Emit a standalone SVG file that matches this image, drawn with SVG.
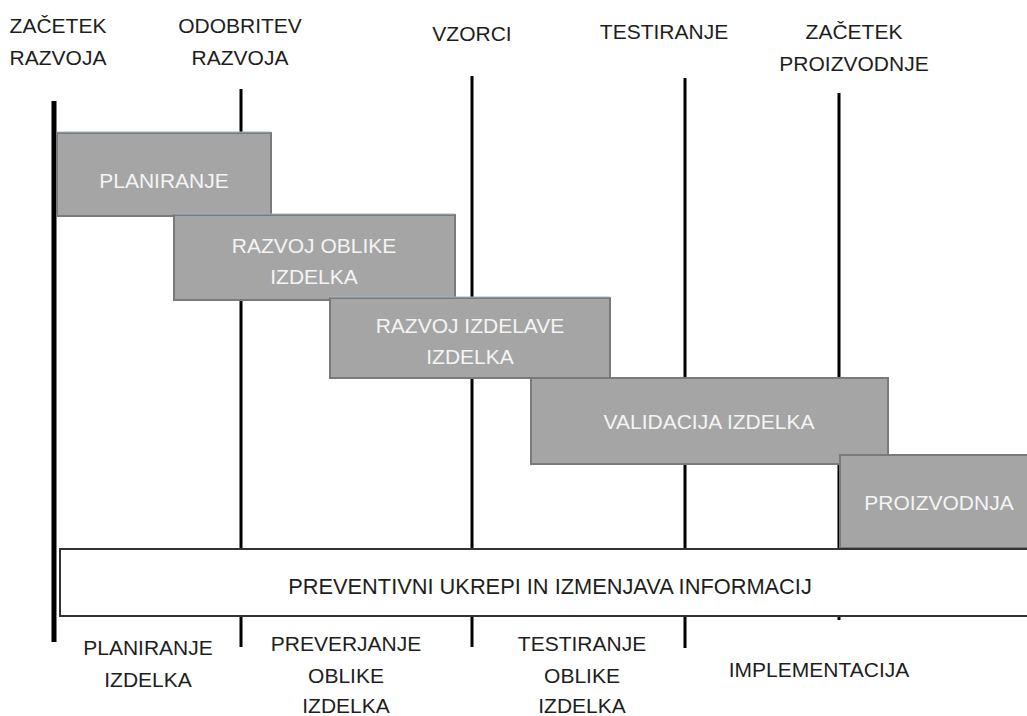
<svg xmlns="http://www.w3.org/2000/svg" width="1027" height="716" viewBox="0 0 1027 716">
  <style>
    .lbl { font-family: "Liberation Sans", Arial, sans-serif; font-size: 21px; fill: #1e1e1e; text-anchor: middle; }
    .phase rect { fill: #a5a5a5; stroke: #7a7a7a; stroke-width: 2; }
    .phase .edge { stroke: #9fb2cc; stroke-width: 1.2; }
    .phase text { font-family: "Liberation Sans", Arial, sans-serif; font-size: 21px; fill: #f4f4f4; text-anchor: middle; }
    .mile { stroke: #000; stroke-width: 3; fill: none; }
  </style>
  <rect width="1027" height="716" fill="#fff"/>

  <!-- milestone lines -->
  <g id="connectors">
    <line class="mile" x1="54" y1="101" x2="54" y2="642" style="stroke-width:5"/>
    <line class="mile" x1="241" y1="89" x2="241" y2="647"/>
    <line class="mile" x1="472" y1="76" x2="472" y2="647"/>
    <line class="mile" x1="685" y1="78" x2="685" y2="648"/>
    <line class="mile" x1="839" y1="93" x2="839" y2="620"/>
  </g>

  <!-- milestone headings -->
  <g id="milestones">
    <text class="lbl" x="58" y="33">ZAČETEK</text>
    <text class="lbl" x="58" y="65">RAZVOJA</text>
    <text class="lbl" x="240" y="33">ODOBRITEV</text>
    <text class="lbl" x="240" y="65">RAZVOJA</text>
    <text class="lbl" x="472" y="41">VZORCI</text>
    <text class="lbl" x="664" y="39">TESTIRANJE</text>
    <text class="lbl" x="854" y="39">ZAČETEK</text>
    <text class="lbl" x="854" y="71">PROIZVODNJE</text>
  </g>

  <g id="planiranje" class="phase">
    <rect x="57" y="133" width="214" height="83"/>
    <line class="edge" x1="57" y1="132" x2="271" y2="132"/>
    <text x="164" y="188">PLANIRANJE</text>
  </g>
  <g id="razvoj-oblike" class="phase">
    <rect x="174" y="215" width="281" height="85"/>
    <line class="edge" x1="174" y1="214" x2="455" y2="214"/>
    <text x="314" y="253">RAZVOJ OBLIKE</text>
    <text x="314" y="284">IZDELKA</text>
  </g>
  <g id="razvoj-izdelave" class="phase">
    <rect x="330" y="298" width="280" height="80"/>
    <line class="edge" x1="330" y1="297" x2="610" y2="297"/>
    <text x="470" y="333">RAZVOJ IZDELAVE</text>
    <text x="470" y="364">IZDELKA</text>
  </g>
  <g id="validacija" class="phase">
    <rect x="531" y="378" width="357" height="86"/>
    <text x="709" y="429">VALIDACIJA IZDELKA</text>
  </g>
  <g id="proizvodnja" class="phase">
    <rect x="840" y="455" width="200" height="93"/>
    <text x="939" y="510">PROIZVODNJA</text>
  </g>

  <g id="preventivni">
    <rect x="60" y="549" width="980" height="67" fill="#fff" stroke="#333" stroke-width="2"/>
    <text class="lbl" x="550" y="594" style="font-size:21.8px">PREVENTIVNI UKREPI IN IZMENJAVA INFORMACIJ</text>
  </g>

  <!-- stage labels below the timeline -->
  <g id="stages">
    <text class="lbl" x="148" y="655">PLANIRANJE</text>
    <text class="lbl" x="148" y="687">IZDELKA</text>
    <text class="lbl" x="346" y="651">PREVERJANJE</text>
    <text class="lbl" x="346" y="683">OBLIKE</text>
    <text class="lbl" x="346" y="713">IZDELKA</text>
    <text class="lbl" x="582" y="651">TESTIRANJE</text>
    <text class="lbl" x="582" y="683">OBLIKE</text>
    <text class="lbl" x="582" y="713">IZDELKA</text>
    <text class="lbl" x="819" y="677">IMPLEMENTACIJA</text>
  </g>
</svg>
